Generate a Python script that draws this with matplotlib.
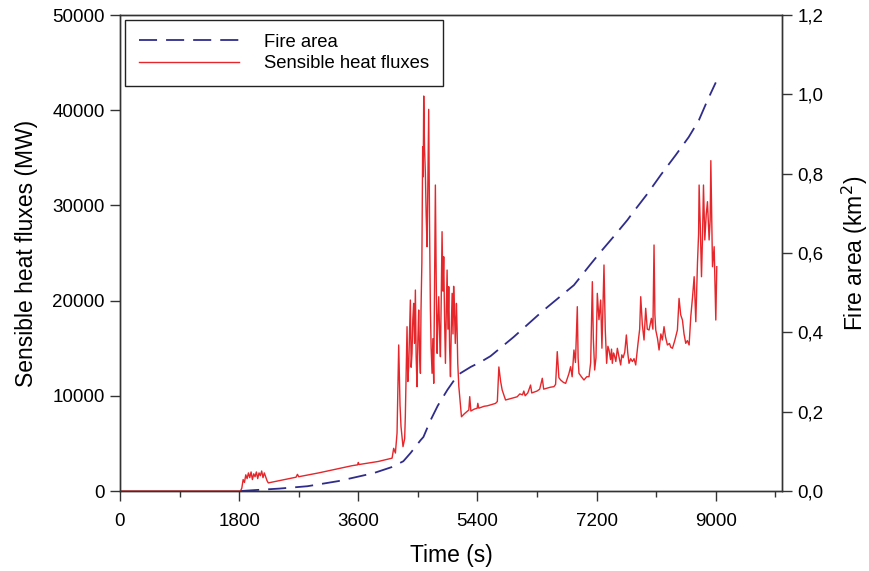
import matplotlib
matplotlib.use("Agg")
import matplotlib.pyplot as plt
from matplotlib.ticker import MultipleLocator, FuncFormatter
from matplotlib.lines import Line2D

# ---- data ----
heat_time = [0, 1820, 1840, 1860, 1880, 1900, 1920, 1940, 1960, 1980, 2000, 2020, 2040, 2060,
             2080, 2100, 2120, 2140, 2160, 2180, 2200, 2220, 2240,
             2660, 2680, 2700, 3000, 3500, 3590, 3600, 3610, 3900, 4110, 4134, 4160, 4185,
             4210, 4230, 4245, 4275, 4300,
             4310, 4322, 4336, 4348, 4361, 4373, 4386, 4398, 4411, 4423, 4436, 4449, 4462,
             4474, 4487, 4500, 4512, 4525, 4538, 4547, 4560, 4572, 4580, 4588, 4600, 4613,
             4625, 4638, 4650, 4663, 4676, 4689, 4700, 4714, 4726, 4739, 4752, 4764, 4777,
             4790, 4802, 4815, 4828, 4840, 4852, 4865, 4878, 4890, 4903, 4916, 4928, 4941,
             4954, 4966, 4979, 4992, 5004, 5017, 5030, 5040, 5052, 5065, 5082, 5092, 5102,
             5118, 5132, 5158,
             5200, 5269, 5283, 5300, 5350, 5395, 5405, 5420, 5500, 5550, 5600, 5672, 5700, 5723,
             5750, 5773, 5824, 5900, 5950, 6000, 6040, 6080, 6100, 6120, 6160, 6202, 6220, 6260,
             6300, 6340, 6379, 6400, 6450, 6500, 6555, 6580, 6605, 6630, 6656, 6700, 6732, 6760,
             6780, 6807, 6830, 6857, 6880, 6908, 6920, 6933, 6970, 7009, 7050, 7085, 7110, 7135,
             7150, 7170, 7190, 7210, 7235, 7261, 7280, 7311, 7330, 7351, 7370, 7387, 7410, 7425,
             7437, 7455, 7470, 7490, 7513, 7540, 7563, 7580, 7600, 7625, 7649, 7670, 7689, 7715,
             7740, 7765, 7790, 7825, 7850, 7866, 7890, 7916, 7941, 7965, 7992, 8027, 8050, 8067,
             8080, 8093, 8120, 8143, 8170, 8193, 8218, 8240, 8269, 8300, 8320, 8345, 8380, 8420,
             8445, 8470, 8496, 8520, 8546, 8570, 8597, 8622, 8650, 8673, 8698, 8723, 8740, 8748,
             8765, 8784, 8800, 8814, 8834, 8855, 8874, 8899, 8915, 8925, 8950, 8975, 9000, 9015]
heat_mw = [0, 0, 300, 1200, 900, 1700, 1300, 1900, 1400, 2000, 1200, 1800, 1500, 2000,
           1300, 1900, 1600, 2100, 1400, 1900, 1500, 1100, 850,
           1450, 1750, 1500, 1900, 2650, 2750, 3000, 2780, 3100, 3450, 4480, 3990, 6090,
           15340, 9000, 6760, 4660, 5500,
           7800, 12000, 17260, 11500, 13060, 16500, 20060, 13000, 14460, 18000, 19710, 15500, 21110,
           14000, 10960, 16000, 19010, 14500, 12360, 19010, 24000, 36160, 33000, 41490, 36000, 33360,
           29000, 25660, 32000, 40090, 28000, 19010, 15000, 12360, 16000, 11310, 22000, 32140, 22000,
           14460, 18000, 20410, 16500, 14110, 20000, 27240, 21000, 24610, 18000, 13410, 18500, 23210,
           17000, 21460, 15000, 12010, 17000, 20760, 16500, 21500, 19010, 15500, 19710, 17000, 13410,
           11000, 9910, 7800,
           8100, 8510, 9910, 8400, 8600, 8690, 9210, 8700, 8900, 8950, 9050, 9200, 9400, 13030,
           11500, 10610, 9560, 9700, 9800, 9900, 10200, 10100, 10500, 10000, 10300, 11130, 10300, 10400,
           10500, 10700, 11840, 10700, 10800, 10900, 10960, 11200, 14640, 11900, 11660, 11400, 11310, 11900,
           12300, 13060, 12000, 14810, 13500, 19360, 14000, 12360, 12000, 11660, 12000, 12010, 13500, 21990,
           16000, 12710, 14000, 20760, 18000, 20060, 15000, 23740, 17000, 13410, 15200, 14810, 13800, 14900,
           13410, 14500, 14200, 13600, 14990, 14000, 13240, 14300, 14000, 14600, 16390, 14500, 13410, 13900,
           13600, 13900, 13240, 15510, 17000, 20410, 17500, 15860, 19190, 17000, 16910, 18140, 17000, 25840,
           18500, 16910, 16000, 14810, 16500, 15860, 17260, 16200, 15340, 15500, 15100, 14990, 15800, 16910,
           20230, 18500, 17960, 16500, 15510, 15800, 15340, 18310, 20500, 22510, 17780, 23920, 27000, 32140,
           28000, 22510, 27000, 32140, 26370, 29000, 30390, 26370, 28500, 34700, 23560, 25660, 17960, 23560]

area_time = [1830, 2010, 2400, 2830, 3300, 3830, 4100, 4280, 4390, 4540, 4583, 4690, 4800,
             4946, 5050, 5143, 5300, 5445, 5597, 5945, 6353, 6459, 6857, 7100, 7261, 7450,
             7664, 7739, 7970, 8170, 8395, 8590, 8745, 8877, 9000]
area_km2 = [0.0, 0.002, 0.006, 0.012, 0.025, 0.045, 0.060, 0.075, 0.096, 0.128, 0.136, 0.178, 0.215,
            0.255, 0.280, 0.297, 0.313, 0.325, 0.340, 0.388, 0.449, 0.464, 0.519, 0.570, 0.603, 0.640,
            0.683, 0.700, 0.750, 0.797, 0.847, 0.892, 0.935, 0.986, 1.030]

x_ticks = [0, 1800, 3600, 5400, 7200, 9000]
y_left_ticks = [0, 10000, 20000, 30000, 40000, 50000]
y_right_ticks = [0.0, 0.2, 0.4, 0.6, 0.8, 1.0, 1.2]

# ---- plot ----
plt.rcParams['font.family'] = ['Liberation Sans', 'DejaVu Sans']
RED = '#e5262a'
BLUE = '#2f2c8c'
AX = '#333333'

fig = plt.figure(figsize=(8.7, 5.71), dpi=100)
ax1 = fig.add_axes([120/870, 80/571, 662/870, 476/571])
ax2 = ax1.twinx()

ax1.plot(heat_time, heat_mw, color=RED, lw=1.0)
ax2.plot(area_time, area_km2, color=BLUE, lw=1.3, dashes=(10, 5))

ax1.set_xlim(0, 10000)
ax1.set_ylim(0, 50000)
ax2.set_ylim(0, 1.2)

ax1.set_xticks(x_ticks)
ax1.xaxis.set_minor_locator(MultipleLocator(900))
ax1.set_yticks(y_left_ticks)
ax2.set_yticks(y_right_ticks)
ax2.yaxis.set_major_formatter(FuncFormatter(lambda v, p: f"{v:.1f}".replace('.', ',')))

for a in (ax1, ax2):
    for s in a.spines.values():
        s.set_color(AX)
        s.set_linewidth(1.0)
    a.tick_params(which='major', direction='out', length=7, width=1.0, color=AX,
                  labelsize=13.5, pad=4)
    a.tick_params(which='minor', direction='out', length=4, width=1.0, color=AX)
ax1.tick_params(axis='x', which='major', pad=9)

ax1.set_xlabel('Time (s)', fontsize=16.5, labelpad=10)
ax1.set_ylabel('Sensible heat fluxes (MW)', fontsize=16.5, labelpad=10)
ax2.set_ylabel('Fire area (km$^2$)', fontsize=16.5, labelpad=12)

handles = [Line2D([], [], color=BLUE, lw=1.3, dashes=(10, 5)),
           Line2D([], [], color=RED, lw=1.0)]
leg = ax2.legend(handles, ['Fire area', 'Sensible heat fluxes'], loc='upper left',
                 bbox_to_anchor=(5/662, 1 - 5/476), borderaxespad=0, fontsize=13.3,
                 handlelength=5.4, handletextpad=1.4, labelspacing=0.25,
                 fancybox=False, framealpha=1, edgecolor='#222222',
                 borderpad=0.75)
leg.get_frame().set_linewidth(1.0)

fig.savefig('out.png', dpi=100)
